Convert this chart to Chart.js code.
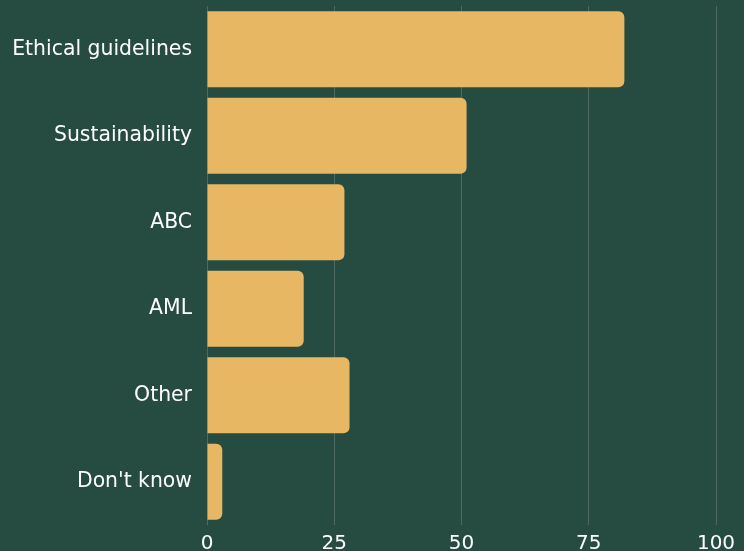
<!DOCTYPE html>
<html>
<head>
<meta charset="utf-8">
<script src="https://cdn.jsdelivr.net/npm/chart.js@4.4.1/dist/chart.umd.min.js"></script>
<style>
  html, body { margin: 0; padding: 0; background: #264b41; }
  #wrap { width: 744px; height: 551px; }
</style>
</head>
<body>
<div id="wrap"><canvas id="topicsChart"></canvas></div>
<script>
// data
const categories = ["Ethical guidelines", "Sustainability", "ABC", "AML", "Other", "Don't know"];
const values = [82, 51, 27, 19, 28, 3];
const xTicks = [0, 25, 50, 75, 100];

const barColour = "#e8b763";
const textColour = "#ffffff";
const gridColour = "rgba(255, 255, 255, 0.18)";

Chart.defaults.font.family = "'DejaVu Sans', 'Noto Sans', sans-serif";

const ctx = document.getElementById("topicsChart");

new Chart(ctx, {
  type: "bar",
  data: {
    labels: categories,
    datasets: [
      {
        data: values,
        backgroundColor: barColour,
        borderRadius: 6,
        borderSkipped: "start",
        categoryPercentage: 0.878,
        barPercentage: 1,
      },
    ],
  },
  options: {
    indexAxis: "y",
    responsive: true,
    maintainAspectRatio: false,
    animation: false,
    layout: {
      padding: { top: 6, right: 28, bottom: 0, left: 0 },
    },
    plugins: {
      legend: { display: false },
      tooltip: { enabled: false },
    },
    scales: {
      x: {
        min: 0,
        max: 100,
        afterBuildTicks: function(scale) {
          scale.ticks = xTicks.map(v => ({ value: v }));
        },
        afterFit: function(scale) {
          scale.height = 26;
          scale.paddingLeft = 0;
          scale.paddingRight = 0;
        },
        grid: {
          color: gridColour,
          lineWidth: 1,
          drawTicks: false,
        },
        border: { display: false },
        ticks: {
          color: textColour,
          padding: 7,
          font: { size: 20 },
        },
      },
      y: {
        afterFit: function(scale) {
          scale.width = 207;
          scale.paddingTop = 0;
          scale.paddingBottom = 0;
        },
        grid: { display: false, drawTicks: false },
        border: { display: false },
        ticks: {
          color: textColour,
          padding: 15,
          font: { size: 20.4 },
        },
      },
    },
  },
});
</script>
</body>
</html>
